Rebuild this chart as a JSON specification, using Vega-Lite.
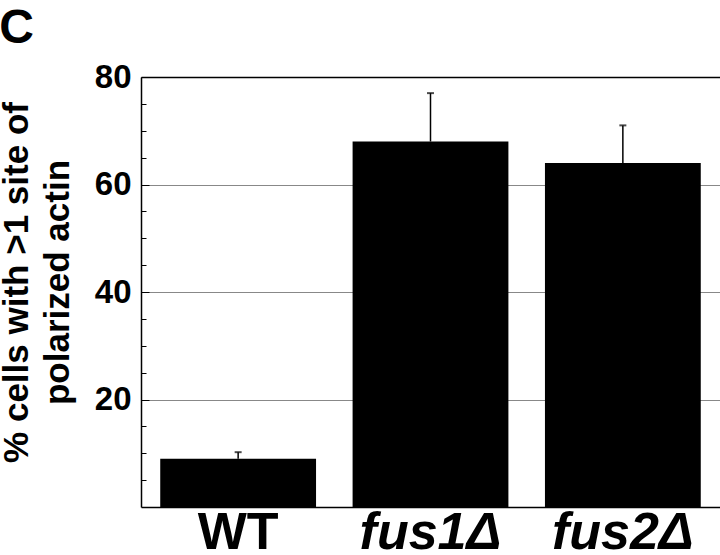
{
  "$schema": "https://vega.github.io/schema/vega-lite/v6.json",
  "width": 579,
  "height": 430,
  "autosize": "none",
  "padding": {"left": 141, "top": 77, "right": 0, "bottom": 48},
  "background": "white",
  "config": {"view": {"stroke": null}, "font": "Liberation Sans"},
  "title": {"text": "C", "anchor": "start", "frame": "bounds", "fontSize": 48, "fontWeight": "bold", "font": "Liberation Sans", "color": "black", "offset": 8},
  "data": {"values": [
    {"strain": "WT", "pct": 9, "upper": 10.2},
    {"strain": "fus1Δ", "pct": 68, "upper": 77},
    {"strain": "fus2Δ", "pct": 64, "upper": 71}
  ]},
  "encoding": {
    "x": {"field": "strain", "type": "nominal", "sort": null,
      "scale": {"paddingInner": 0.19, "paddingOuter": 0.1},
      "axis": {"title": null, "labelAngle": 0, "labelFontSize": 52, "labelFontWeight": "bold", "labelColor": "black",
        "labelFontStyle": {"condition": {"test": "datum.value !== 'WT'", "value": "italic"}, "value": "normal"},
        "ticks": false, "domainColor": "black", "domainWidth": 1.5, "labelPadding": 0}}
  },
  "layer": [
    {"mark": {"type": "bar", "color": "black"},
     "encoding": {"y": {"field": "pct", "type": "quantitative", "scale": {"domain": [0, 80], "nice": false},
       "axis": {"values": [5,10,15,20,25,30,35,40,45,50,55,60,65,70,75,80], "tickCount": 40,
         "labelExpr": "datum.value % 20 === 0 ? datum.label : ''",
         "labelOverlap": false, "labelFlush": false,
         "labelFontSize": 33, "labelFontWeight": "bold", "labelColor": "black", "labelPadding": 18,
         "tickColor": "black", "tickWidth": 1,
         "tickSize": {"condition": {"test": "datum.value % 20 === 0", "value": -8}, "value": -5},
         "domainColor": "black", "domainWidth": 1.5,
         "grid": true,
         "gridColor": {"condition": {"test": "datum.value === 80", "value": "black"}, "value": "#888888"},
         "gridOpacity": {"condition": {"test": "datum.value % 20 === 0", "value": 1}, "value": 0},
         "gridWidth": {"condition": {"test": "datum.value === 80", "value": 1.5}, "value": 1},
         "title": ["% cells with >1 site of", "polarized actin"],
         "titleFontSize": 35, "titleFontWeight": "bold", "titleColor": "black", "titleLineHeight": 41, "titlePadding": 19, "titleY": 205}}}},
    {"mark": {"type": "rule", "color": "black", "strokeWidth": 1.5},
     "encoding": {"y": {"field": "pct", "type": "quantitative"}, "y2": {"field": "upper"}}},
    {"mark": {"type": "tick", "color": "black", "size": 7, "thickness": 2},
     "encoding": {"y": {"field": "upper", "type": "quantitative"}}}
  ]
}
